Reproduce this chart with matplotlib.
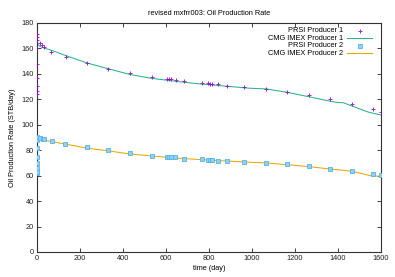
import matplotlib
matplotlib.use("Agg")
import matplotlib.pyplot as plt
from matplotlib.lines import Line2D

plt.rcParams['font.family'] = ['Liberation Sans', 'DejaVu Sans']

title = "revised mxfrr003: Oil Production Rate"
xlabel = "time (day)"
ylabel = "Oil Production Rate (STB/day)"
legend_labels = ["PRSI Producer 1", "CMG IMEX Producer 1", "PRSI Producer 2", "CMG IMEX Producer 2"]

# PRSI Producer 1 (markers)
p1_days = [0.05, 0.1, 0.2, 0.3, 0.5, 0.8, 1.0, 1.5, 2.0, 14, 23, 33, 64, 135, 234, 332, 433, 533,
           606, 614, 622, 645, 684, 766, 797, 805, 813, 843, 882, 964, 1065, 1164, 1265, 1364,
           1464, 1564, 1600]
p1_rate = [124.2, 126.8, 130.5, 137, 148, 160, 167, 169, 171.5, 164, 162.7, 161, 157.5, 153.5,
           148.3, 144, 141, 137.6, 136.2, 136, 135.8, 135.3, 134.3, 132.8, 132.5, 132.3, 132.2,
           131.8, 130.7, 129.6, 128, 126, 123.7, 120.3, 116.6, 112.2, 110]

# CMG IMEX Producer 1 (line)
c1_days = [0, 1, 5, 15, 30, 68, 132, 234, 332, 433, 533, 606, 684, 766, 882, 990, 1065, 1164,
           1265, 1364, 1394, 1425, 1464, 1540, 1565, 1600]
c1_rate = [171, 166, 163, 161.5, 160.5, 158.5, 154.5, 148.5, 144, 139.5, 136.5, 135, 133.4, 132,
           130.3, 128.7, 128.2, 125.5, 122, 118.5, 117.6, 117.3, 114.8, 110, 109, 107.7]

# PRSI Producer 2 (markers)
p2_days = [0.05, 0.1, 0.2, 0.3, 0.5, 0.8, 1.0, 1.5, 14, 26, 34, 68, 132, 234, 332, 433, 533,
           603, 612, 622, 642, 684, 766, 797, 805, 813, 843, 882, 964, 1065, 1164, 1265, 1364,
           1464, 1564, 1600]
p2_rate = [61.8, 63, 65.7, 69.7, 75, 81.5, 87.8, 90, 89.3, 88.8, 88.5, 87.3, 85, 82.3, 80,
           77.6, 75.7, 75, 74.8, 74.6, 74.4, 73.4, 72.9, 72.6, 72.6, 72.5, 71.8, 71.5, 70.9,
           70, 69, 67.4, 65.5, 63.7, 61.6, 60.8]

# CMG IMEX Producer 2 (line)
c2_days = [0, 5, 14, 34, 68, 132, 234, 332, 433, 533, 606, 684, 766, 882, 990, 1065, 1164,
           1265, 1364, 1464, 1549, 1600]
c2_rate = [90.5, 89, 88.3, 87.8, 86.8, 84.8, 81.6, 79.5, 77, 75.5, 74.4, 73.4, 72.6, 71.5,
           70.5, 70, 68.6, 67.1, 65.2, 63.5, 60, 59.5]

c_p1 = '#9400d3'
c_c1 = '#2bb38c'
c_p2 = '#56b4e9'
c_c2 = '#eba700'

fig = plt.figure(figsize=(3.95, 2.77), dpi=100)
ax = fig.add_axes([0.0937, 0.0903, 0.8709, 0.8267])

fs = 5.3
p1_style = dict(linestyle='none', marker='+', ms=3.5, mew=0.7, color=c_p1, alpha=0.85)
p2_style = dict(linestyle='none', marker='s', ms=2.6, mew=0.6, mfc='#8fd0f5', mec=c_p2)

ax.plot(c1_days, c1_rate, color=c_c1, lw=0.75, zorder=2)
ax.plot(c2_days, c2_rate, color=c_c2, lw=0.75, zorder=2)
ax.plot(p1_days, p1_rate, zorder=3, **p1_style)
ax.plot(p2_days, p2_rate, zorder=3, **p2_style)

ax.set_xlim(0, 1600)
ax.set_ylim(0, 180)
ax.set_xticks(range(0, 1601, 200))
ax.set_yticks(range(0, 181, 20))
ax.tick_params(direction='in', length=3, width=0.6, labelsize=fs, top=True, right=True,
               pad=2, colors='#222222')
for s in ax.spines.values():
    s.set_linewidth(0.8)
    s.set_color('#333333')

ax.set_title(title, fontsize=fs, pad=6)
ax.set_xlabel(xlabel, fontsize=fs, labelpad=2)
ax.set_ylabel(ylabel, fontsize=fs, labelpad=4)

# manual gnuplot-style legend (text right-aligned, sample on right)
ax_w = 0.8709 * 395
ax_h = 0.8267 * 277
rows_px = [31, 38.5, 46, 53.3]
text_x = (343 - 37) / ax_w
s0 = (347 - 37) / ax_w
s1 = (372 - 37) / ax_w
for i, (lab, ypx) in enumerate(zip(legend_labels, rows_px)):
    yy = (252 - ypx) / ax_h
    ax.text(text_x, yy, lab, transform=ax.transAxes, ha='right', va='center', fontsize=fs)
    if i == 0:
        ax.add_line(Line2D([(s0 + s1) / 2], [yy], transform=ax.transAxes, **p1_style))
    elif i == 2:
        ax.add_line(Line2D([(s0 + s1) / 2], [yy], transform=ax.transAxes, **p2_style))
    else:
        ax.add_line(Line2D([s0, s1], [yy, yy], transform=ax.transAxes, lw=0.8,
                           color=c_c1 if i == 1 else c_c2))

fig.savefig('out.png', dpi=100)
